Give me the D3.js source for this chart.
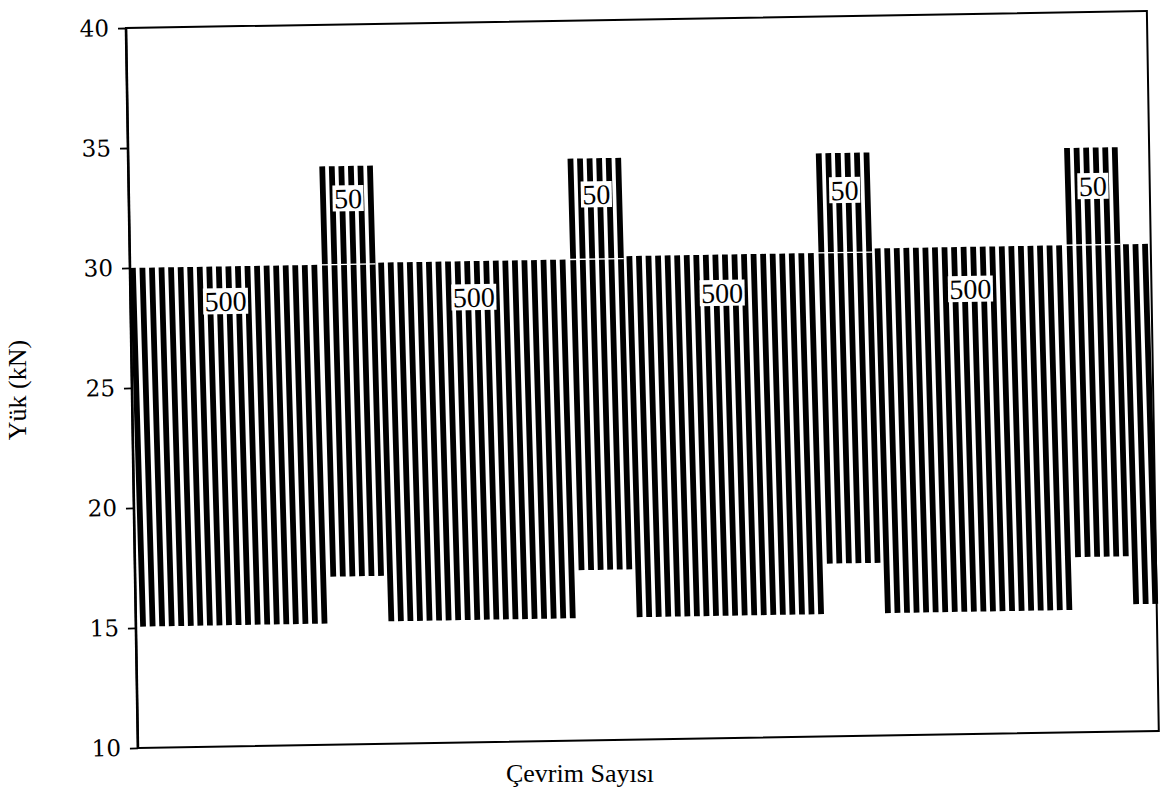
<!DOCTYPE html>
<html>
<head>
<meta charset="utf-8">
<script src="https://cdn.jsdelivr.net/npm/d3@7"></script>
<style>
  html, body { margin: 0; padding: 0; background: #fff; }
  svg { display: block; }
</style>
</head>
<body>
<svg id="chart" width="1165" height="792"></svg>
<script>
// Loading blocks in test order: block size label, strokes drawn, peak and valley load (kN)
const blockLabels  = ["500", "50", "500", "50", "500", "50", "500", "50", "500"];
const blockStrokes = [20, 6, 20, 6, 20, 6, 20, 6, 3];
const blockPeaks   = [30.0, 34.1, 30.05, 34.25, 30.15, 34.3, 30.3, 34.35, 30.3];
const blockValleys = [15.05, 17.0, 15.1, 17.1, 15.1, 17.2, 15.1, 17.3, 15.3];
const labelledBlocks = [0, 1, 2, 3, 4, 5, 6, 7];
const yTicks = [10, 15, 20, 25, 30, 35, 40];
const xTitle = "Çevrim Sayısı";
const yTitle = "Yük (kN)";

const W = 1021, H = 720;
const origin = [126, 28];
const tilt = -0.95;          // the printed plot frame sits slightly rotated
const strokeLag = 0.45;      // valley follows the peak within each cycle
const serif = "'Liberation Serif', 'Times New Roman', serif";

// one entry per drawn load cycle
const cycles = [];
const blocks = [];
let idx = 0;
blockLabels.forEach((lab, b) => {
  const start = idx;
  for (let k = 0; k < blockStrokes[b]; k++) {
    cycles.push({ i: idx, peak: blockPeaks[b], valley: blockValleys[b] });
    idx++;
  }
  blocks.push({ label: lab, start, end: idx - 1, peak: blockPeaks[b], valley: blockValleys[b] });
});

const x = d3.scaleLinear().domain([-0.3, idx - 0.4]).range([0, W]);
const y = d3.scaleLinear().domain([10, 40]).range([H, 0]);

const svg = d3.select("#chart");
const g = svg.append("g")
  .attr("transform", `translate(${origin[0]},${origin[1]}) rotate(${tilt})`);

// load trace: each cycle runs from its peak down to its valley
const p = d3.path();
cycles.forEach(c => {
  p.moveTo(x(c.i), y(c.peak));
  p.lineTo(x(c.i + strokeLag), y(c.valley));
});
g.append("path")
  .attr("d", p.toString())
  .attr("fill", "none")
  .attr("stroke", "#000")
  .attr("stroke-width", 5.8);

// thin light seam where the 50-cycle bursts cross the preceding block's peak level
blocks.forEach((bl, b) => {
  if (bl.label === "50" && b > 0) {
    g.append("line")
      .attr("x1", x(bl.start - 0.35)).attr("x2", x(bl.end + 0.4))
      .attr("y1", y(blocks[b - 1].peak)).attr("y2", y(blocks[b - 1].peak))
      .attr("stroke", "#fff").attr("stroke-width", 1.3);
  }
});

// block size labels on white boxes
labelledBlocks.forEach(b => {
  const bl = blocks[b];
  const cx = x((bl.start + bl.end) / 2 + 0.15);
  const cy = y(bl.label === "50" ? 32.75 : 28.55);
  const lg = g.append("g");
  const t = lg.append("text")
    .attr("x", cx).attr("y", cy).attr("dy", "0.35em")
    .attr("text-anchor", "middle")
    .attr("font-family", serif)
    .attr("font-size", 28)
    .attr("fill", "#000")
    .text(bl.label);
  const bb = t.node().getBBox();
  lg.insert("rect", "text")
    .attr("x", bb.x - 1.5).attr("y", cy - 13)
    .attr("width", bb.width + 3).attr("height", 26)
    .attr("fill", "#fff");
});

// plot frame
g.append("rect")
  .attr("x", 0).attr("y", 0).attr("width", W).attr("height", H)
  .attr("fill", "none").attr("stroke", "#000").attr("stroke-width", 2);
g.append("line")
  .attr("x1", 0).attr("x2", 0).attr("y1", 0).attr("y2", H)
  .attr("stroke", "#000").attr("stroke-width", 2.6);

// y axis
const yAxis = g.append("g")
  .call(d3.axisLeft(y).tickValues(yTicks).tickSize(8).tickPadding(9).tickFormat(d3.format("d")));
yAxis.select(".domain").remove();
yAxis.selectAll(".tick line").attr("stroke", "#000").attr("stroke-width", 1.8);
yAxis.selectAll(".tick text")
  .attr("font-family", "'DejaVu Serif', serif")
  .attr("font-size", 23)
  .attr("fill", "#000");

// axis titles
svg.append("text")
  .attr("x", 580).attr("y", 782)
  .attr("text-anchor", "middle")
  .attr("font-family", serif)
  .attr("font-size", 26)
  .attr("fill", "#000")
  .text(xTitle);
svg.append("text")
  .attr("transform", "translate(26,390) rotate(-90)")
  .attr("text-anchor", "middle")
  .attr("font-family", serif)
  .attr("font-size", 26)
  .attr("fill", "#000")
  .text(yTitle);
</script>
</body>
</html>
